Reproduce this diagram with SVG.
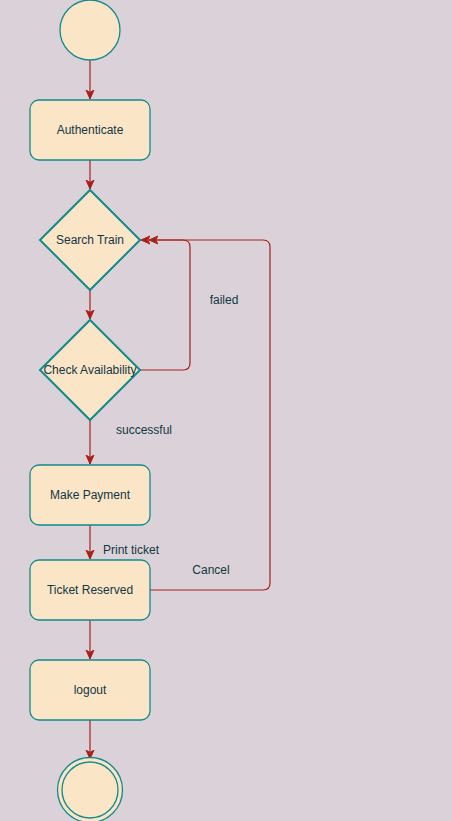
<svg xmlns="http://www.w3.org/2000/svg" width="452" height="821" viewBox="0 0 452 821">
<style>
.n{fill:#FAE5C7;stroke:#0F8B8D;stroke-width:1.3}
.d{fill:#FAE5C7;stroke:#0F8B8D;stroke-width:2}
.e{fill:none;stroke:#A8201A;stroke-width:1.2}
.t{font-family:"Liberation Sans",Arial,sans-serif;font-size:12px;fill:#143642;text-anchor:middle}
</style>
<defs>
<marker id="a" viewBox="0 0 10 10" refX="9" refY="5" markerWidth="10" markerHeight="10" markerUnits="userSpaceOnUse" orient="auto">
<path d="M0,1 L9,5 L0,9 L2.5,5 Z" fill="#A8201A" stroke="#A8201A" stroke-width="1"/>
</marker>
</defs>
<rect width="452" height="821" fill="#DAD2D8"/>
<g id="edges">
<path class="e" d="M90,60 V99" marker-end="url(#a)"/>
<path class="e" d="M90,160 V189" marker-end="url(#a)"/>
<path class="e" d="M90,290 V319" marker-end="url(#a)"/>
<path class="e" d="M140,370 H183 Q190,370 190,363 V247 Q190,240 183,240 H141" marker-end="url(#a)"/>
<path class="e" d="M90,420 V464" marker-end="url(#a)"/>
<path class="e" d="M90,525 V559" marker-end="url(#a)"/>
<path class="e" d="M150,590 H263 Q270,590 270,583 V247 Q270,240 263,240 H149" marker-end="url(#a)"/>
<path class="e" d="M90,620 V659" marker-end="url(#a)"/>
<path class="e" d="M90,720 V759" marker-end="url(#a)"/>
<text class="t" x="224" y="304">failed</text>
<text class="t" x="144" y="434">successful</text>
<text class="t" x="131" y="554">Print ticket</text>
<text class="t" x="211" y="574">Cancel</text>
</g>
<g id="start"><circle class="n" cx="90" cy="30" r="30"/></g>
<g id="authenticate"><rect class="n" x="30" y="100" width="120" height="60" rx="9"/><text class="t" x="90" y="134">Authenticate</text></g>
<g id="search"><path class="d" d="M90,190 L140,240 L90,290 L40,240 Z"/><text class="t" x="90" y="244">Search Train</text></g>
<g id="check"><path class="d" d="M90,320 L140,370 L90,420 L40,370 Z"/><text class="t" x="90" y="374">Check Availability</text></g>
<g id="payment"><rect class="n" x="30" y="465" width="120" height="60" rx="9"/><text class="t" x="90" y="499">Make Payment</text></g>
<g id="reserved"><rect class="n" x="30" y="560" width="120" height="60" rx="9"/><text class="t" x="90" y="594">Ticket Reserved</text></g>
<g id="logout"><rect class="n" x="30" y="660" width="120" height="60" rx="9"/><text class="t" x="90" y="694">logout</text></g>
<g id="end"><circle class="n" cx="90" cy="790" r="32.5"/><circle class="n" cx="90" cy="790" r="28"/></g>
</svg>
